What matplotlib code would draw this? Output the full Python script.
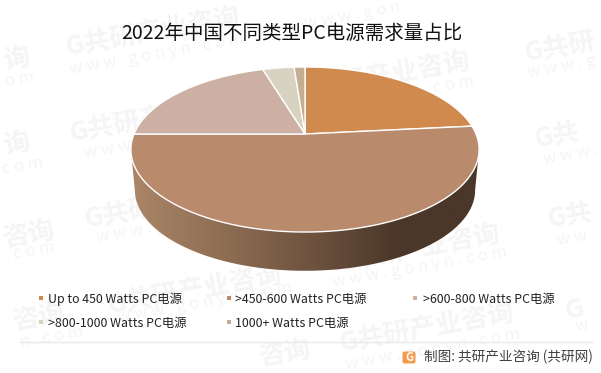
import numpy as np
import matplotlib
matplotlib.use('Agg')
import matplotlib.pyplot as plt
from matplotlib.colors import LinearSegmentedColormap
from matplotlib.patches import FancyBboxPatch, PathPatch, Polygon
from matplotlib.path import Path

plt.rcParams['font.family'] = ['Noto Sans CJK SC', 'DejaVu Sans']

# Data
title = '2022年中国不同类型PC电源需求量占比'
categories = ['Up to 450 Watts PC电源', '>450-600 Watts PC电源', '>600-800 Watts PC电源',
              '>800-1000 Watts PC电源', '1000+ Watts PC电源']
shares = [23.4, 51.6, 20.3, 3.5, 1.2]
colors = ['#d08a4e', '#b98a6c', '#ccb0a4', '#d8d3c0', '#c4ad90']
source = '制图: 共研产业咨询 (共研网)'

W, H = 601, 373
fig = plt.figure(figsize=(W / 100, H / 100), dpi=100)
ax = fig.add_axes([0, 0, 1, 1])
ax.set_xlim(0, W)
ax.set_ylim(H, 0)
ax.axis('off')

# Watermarks, only the part of each one that is inside the picture
full_main = 'G共研产业咨询'
full_sub = 'w w w . g o n y n . c o m'
wm_main = [(66, 48, full_main), (296, 92, full_main), (525, 54, 'G共研'), (3, 147, '询'),
           (70, 134, full_main), (2, 240, '咨询'), (85, 220, full_main), (535, 140, 'G共'),
           (548, 220, 'G共'), (326, 265, full_main), (108, 306, full_main), (340, 344, full_main),
           (258, 359, '咨询'), (12, 323, '咨询'), (565, 312, 'G'), (3, 62, '询')]
wm_sub = [(70, 70, full_sub), (300, 112, full_sub), (528, 73, 'w w w . g'), (305, 24, 'w w w . g o n'),
          (2, 170, 'c o m'), (84, 154, 'w w w'), (5, 256, '. c o m'), (97, 238, full_sub),
          (543, 160, 'w w w .'), (557, 241, 'w w'), (333, 283, full_sub), (118, 318, full_sub),
          (346, 365, full_sub), (20, 343, 'n . c o m'), (575, 327, 'w'), (5, 82, 'o m')]
for wx, wy, txt in wm_main:
    ax.text(wx, wy, txt, fontsize=19, fontweight='bold', color='#f5f5f5', rotation=10,
            ha='left', va='center', rotation_mode='anchor', zorder=0)
for wx, wy, txt in wm_sub:
    ax.text(wx, wy, txt, fontsize=12, color='#f5f5f5', rotation=10,
            ha='left', va='center', rotation_mode='anchor', zorder=0)

# Perspective pie, circle is projected onto the picture
cx, cy = 305, 134
a, b, k = 171, 79.6, 0.188


def project(theta, scale=1.0, drop=0.0):
    # theta clockwise from top of the pie
    X, Y = np.sin(theta), np.cos(theta)
    d = 1 + k * Y
    return cx + scale * a * X / d, cy + drop - scale * b * Y / d


# Side wall
t = np.linspace(0, 2 * np.pi, 721)
xt, yt = project(t)
xb, yb = project(t, scale=0.977, drop=41)
left, right = np.argmin(xt), np.argmax(xt)
top_half = np.r_[xt[left:], xt[:right]], np.r_[yt[left:], yt[:right]]
low = np.arange(np.argmax(xb), np.argmin(xb))
wall_xy = np.c_[np.r_[top_half[0], xb[low]], np.r_[top_half[1], yb[low]]]
wall = Polygon(wall_xy, closed=True, fc='none', ec='none', transform=ax.transData)
ax.add_patch(wall)
cmap = LinearSegmentedColormap.from_list('wall', [(0, '#ab8668'), (0.3, '#8a6a50'), (0.55, '#6a4f3c'),
                                                  (0.76, '#4b3729'), (1, '#4b3729')])
grad = ax.imshow(np.linspace(0, 1, 256)[None, :], cmap=cmap, extent=[131, 479, 275, 100],
                 aspect='auto', zorder=2)
grad.set_clip_path(wall)
ax.set_xlim(0, W)
ax.set_ylim(H, 0)

# Top of the pie, slices come from shares
start = 0.0
for share, col in zip(shares, colors):
    end = start + share / sum(shares) * 2 * np.pi
    th = np.linspace(start, end, 200)
    px, py = project(th)
    verts = np.r_[[[cx, cy]], np.c_[px, py], [[cx, cy]]]
    ax.add_patch(PathPatch(Path(verts), fc=col, ec='white', lw=1, joinstyle='round', zorder=3))
    start = end

ax.text(291.5, 33, title, fontsize=14, color='#111111', ha='center', va='center', zorder=5)

# Legend
sq_x = [39, 227, 413, 39, 227]
txt_x = [48, 235, 423, 48, 235]
leg_y = [299, 299, 299, 323, 323]
for name, col, sx, tx, ly in zip(categories, colors, sq_x, txt_x, leg_y):
    ax.fill([sx, sx + 4, sx + 4, sx], [ly - 3, ly - 3, ly + 1, ly + 1], color=col, lw=0, zorder=5)
    ax.text(tx, ly, name, fontsize=8.9, color='#222222', ha='left', va='center', zorder=5)

# Footer
ax.plot([20, 592], [342, 342], color='#e9e9e9', lw=1, zorder=4)
ax.add_patch(FancyBboxPatch((403, 352), 12, 11, boxstyle='round,pad=0.5,rounding_size=2',
                            fc='#f39a4f', ec='none', zorder=5))
ax.text(409, 357.5, 'G', fontsize=8, fontweight='bold', color='white', ha='center', va='center', zorder=6)
ax.text(424, 357, source, fontsize=9.8, color='#404040', ha='left', va='center', zorder=5)

fig.savefig('out.png', dpi=100)
